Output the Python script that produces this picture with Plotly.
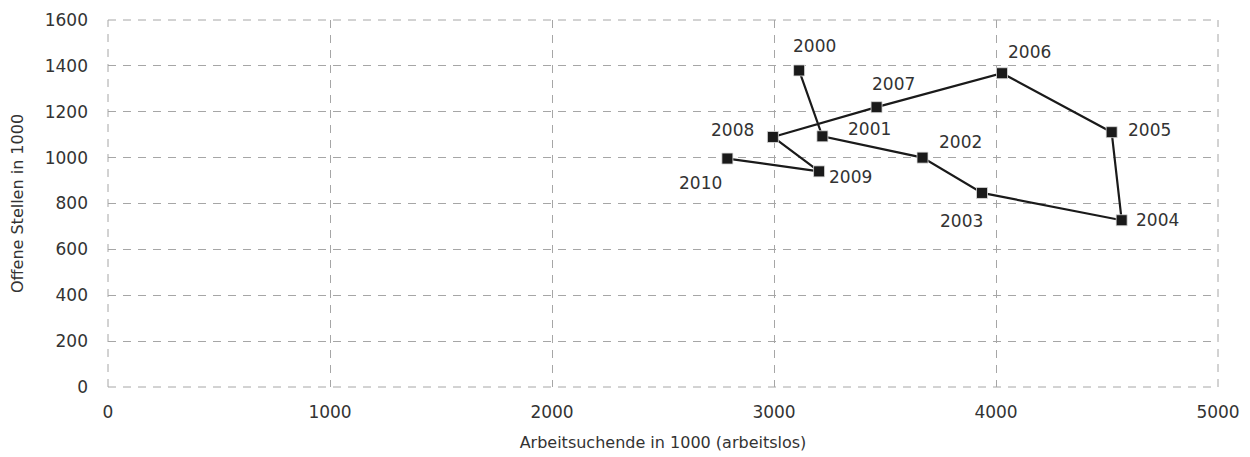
import plotly.graph_objects as go

years = ["2000", "2001", "2002", "2003", "2004", "2005", "2006", "2007", "2008", "2009", "2010"]
arbeitsuchende = [3113, 3218, 3669, 3937, 4566, 4521, 4027, 3462, 2995, 3203, 2790]
offene_stellen = [1380, 1093, 1000, 846, 727, 1111, 1368, 1220, 1090, 940, 996]

# label offsets in pixels (style only)
label_dx = [15, 47, 38, -21, 36, 38, 28, 17, -40, 31, -27]
label_dy = [24, 7, 16, -28, 0, 2, 21, 23, 7, -6, -24]

x_ticks = [0, 1000, 2000, 3000, 4000, 5000]
y_ticks = [0, 200, 400, 600, 800, 1000, 1200, 1400, 1600]

FONT = "DejaVu Sans"
TXT = "#333333"
GRID = "#a6a6a6"
DASH = "8px,7px"

fig = go.Figure()
fig.add_trace(go.Scatter(
    x=arbeitsuchende, y=offene_stellen, mode="lines+markers",
    line=dict(color="#1a1a1a", width=2.2),
    marker=dict(symbol="square", size=11, color="#1a1a1a",
                line=dict(color="#dddddd", width=0.8)),
    hoverinfo="skip", showlegend=False,
))

for yr, xv, yv, dx, dy in zip(years, arbeitsuchende, offene_stellen, label_dx, label_dy):
    fig.add_annotation(x=xv, y=yv, text=yr, showarrow=False,
                       xshift=dx, yshift=dy,
                       font=dict(family=FONT, size=17, color=TXT))

# dashed frame at the axis range edges (grid lines at the borders)
for x0, y0, x1, y1 in [(0, 0, 1, 0), (0, 1, 1, 1), (0, 0, 0, 1), (1, 0, 1, 1)]:
    fig.add_shape(type="line", xref="paper", yref="paper",
                  x0=x0, y0=y0, x1=x1, y1=y1, layer="below",
                  line=dict(color=GRID, width=1, dash=DASH))

fig.update_layout(
    width=1242, height=449,
    margin=dict(l=100, r=32, t=12, b=70, autoexpand=False),
    paper_bgcolor="white", plot_bgcolor="white",
    font=dict(family=FONT, color=TXT),
)
fig.update_xaxes(
    range=[0, 5000], tickvals=x_ticks, ticktext=[str(v) for v in x_ticks],
    showgrid=True, gridcolor=GRID, griddash=DASH, gridwidth=1,
    zeroline=False, showline=False, ticks="", ticklabelstandoff=13,
    automargin=False,
    tickfont=dict(family=FONT, size=17, color=TXT),
    title=dict(text="Arbeitsuchende in 1000 (arbeitslos)",
               font=dict(family=FONT, size=16, color=TXT), standoff=15),
)
fig.update_yaxes(
    range=[0, 1600], tickvals=y_ticks, ticktext=[str(v) for v in y_ticks],
    showgrid=True, gridcolor=GRID, griddash=DASH, gridwidth=1,
    zeroline=False, showline=False, ticks="", ticklabelstandoff=19,
    automargin=False,
    tickfont=dict(family=FONT, size=17, color=TXT),
    title=dict(text="Offene Stellen in 1000",
               font=dict(family=FONT, size=16, color=TXT), standoff=17),
)

fig.write_html("out.html")
